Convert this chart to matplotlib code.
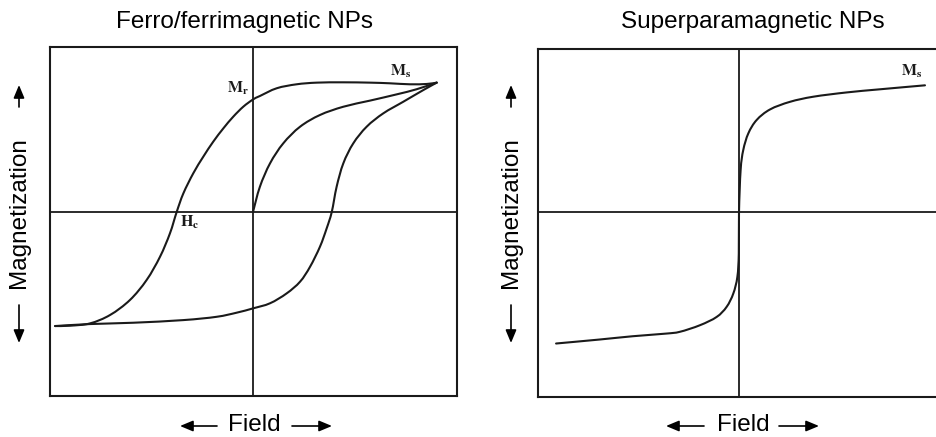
import matplotlib
matplotlib.use("Agg")
import numpy as np
import matplotlib.pyplot as plt
from matplotlib.patches import FancyArrowPatch, PathPatch
from matplotlib.path import Path

plt.rcParams['font.family'] = ['Liberation Sans', 'DejaVu Sans']
plt.rcParams['mathtext.fontset'] = 'stix'

# ferro/ferrimagnetic loop: descending branch (through Hc and Mr)
upper_x = [-9.75, -9.01, -8.03, -7.04, -6.06, -5.24, -4.58, -4.09, -3.76, -3.43,
           -2.94, -2.45, -1.96, -1.46, -0.97, -0.48, 0.0, 0.34, 1.17, 2.15,
           3.14, 4.45, 5.76, 6.75, 7.73, 8.56, 9.05]
upper_y = [-6.91, -6.89, -6.75, -6.24, -5.33, -4.12, -2.71, -1.29, 0.0, 1.13,
           2.35, 3.35, 4.26, 5.07, 5.78, 6.38, 6.82, 7.03, 7.50, 7.74,
           7.84, 7.86, 7.84, 7.80, 7.74, 7.76, 7.84]
# ascending branch
lower_x = [-9.75, -8.03, -5.90, -3.43, -1.79, -0.80, 0.0, 0.84, 1.66, 2.32, 2.81,
           3.30, 3.63, 3.88, 4.12, 4.45, 4.94, 5.60, 6.42, 7.40, 8.39, 9.05]
lower_y = [-6.91, -6.79, -6.71, -6.55, -6.35, -6.10, -5.84, -5.53, -4.93, -4.22, -3.32,
           -2.10, -0.99, 0.0, 1.53, 2.95, 4.16, 5.17, 5.98, 6.68, 7.39, 7.84]
# initial magnetisation curve
init_x = [0.0, 0.34, 0.84, 1.49, 2.32, 3.30, 4.45, 5.76, 7.08, 8.06, 9.05]
init_y = [0.0, 1.53, 2.95, 4.16, 5.17, 5.88, 6.38, 6.75, 7.13, 7.44, 7.84]

# superparamagnetic curve
sp_x = [-9.01, -6.88, -5.24, -3.60, -2.91, -1.92, -1.10, -0.61, -0.28, -0.08, -0.01,
        0.0, 0.08, 0.21, 0.46, 0.87, 1.53, 2.51, 3.66, 5.31, 6.95, 9.16]
sp_y = [-7.96, -7.72, -7.52, -7.36, -7.25, -6.85, -6.35, -5.74, -4.93, -3.92, -2.50,
        0.0, 2.55, 3.76, 4.77, 5.58, 6.22, 6.68, 6.99, 7.25, 7.44, 7.68]

W, H = 936, 437
fig = plt.figure(figsize=(W / 100, H / 100), dpi=100)
fig.patch.set_facecolor('white')

ax1 = fig.add_axes([50 / W, 1 - 396 / H, 407 / W, 349 / H])
ax2 = fig.add_axes([538 / W, 1 - 397 / H, 402 / W, 348 / H])

lc = '#1a1a1a'
for ax in (ax1, ax2):
    ax.axhline(0, color=lc, lw=1.3)
    ax.axvline(0, color=lc, lw=1.3)
    ax.set_xticks([])
    ax.set_yticks([])
    for s in ax.spines.values():
        s.set_linewidth(1.5)
        s.set_color(lc)


def smooth_curve(ax, xs, ys):
    # bezier path through the read points (catmull-rom tangents)
    p = np.column_stack([xs, ys])
    ext = np.vstack([p[0], p, p[-1]])
    verts = [p[0]]
    codes = [Path.MOVETO]
    for i in range(len(p) - 1):
        p0, p1, p2, p3 = ext[i], ext[i + 1], ext[i + 2], ext[i + 3]
        verts += [p1 + (p2 - p0) / 6, p2 - (p3 - p1) / 6, p2]
        codes += [Path.CURVE4] * 3
    ax.add_patch(PathPatch(Path(verts, codes), fill=False, edgecolor=lc, lw=1.5,
                           capstyle='round', joinstyle='round'))


smooth_curve(ax1, upper_x, upper_y)
smooth_curve(ax1, lower_x, lower_y)
smooth_curve(ax1, init_x, init_y)
ax1.set_xlim(-10.0, 10.05)
ax1.set_ylim(-11.15, 10.0)

smooth_curve(ax2, sp_x, sp_y)
ax2.set_xlim(-9.9, 9.9)
ax2.set_ylim(-11.2, 9.88)

lab = dict(fontsize=11.5, color=lc, ha='center', va='center')
ax1.text(-0.75, 7.5, r'$\mathbf{M_r}$', **lab)
ax1.text(7.3, 8.5, r'$\mathbf{M_s}$', **lab)
ax1.text(-3.1, -0.6, r'$\mathbf{H_c}$', **lab)
ax2.text(8.5, 8.5, r'$\mathbf{M_s}$', **lab)

fig.text(245 / W, 1 - 22 / H, 'Ferro/ferrimagnetic NPs', fontsize=17.5, ha='center', va='center')
fig.text(753 / W, 1 - 22 / H, 'Superparamagnetic NPs', fontsize=17.5, ha='center', va='center')


def arrow(x0, y0, x1, y1):
    a = FancyArrowPatch((x0 / W, 1 - y0 / H), (x1 / W, 1 - y1 / H), transform=fig.transFigure,
                        arrowstyle='-|>,head_length=0.6,head_width=0.25', mutation_scale=13,
                        shrinkA=0, shrinkB=0, lw=1.2, color='black')
    fig.add_artist(a)


# x labels with arrows
for cx, l0, l1, r0, r1 in [(254, 217, 180, 292, 332), (743, 704, 666, 779, 819)]:
    fig.text(cx / W, 1 - 425 / H, 'Field', fontsize=17.5, ha='center', va='center')
    arrow(l0, 426, l1, 426)
    arrow(r0, 426, r1, 426)

# y labels with arrows
for cx in (19, 511):
    fig.text(cx / W, 1 - 213 / H, 'Magnetization', fontsize=17.5, rotation=90,
             ha='center', va='center')
    arrow(cx, 107, cx, 85)
    arrow(cx, 305, cx, 343)

fig.savefig('out.png', dpi=100)
